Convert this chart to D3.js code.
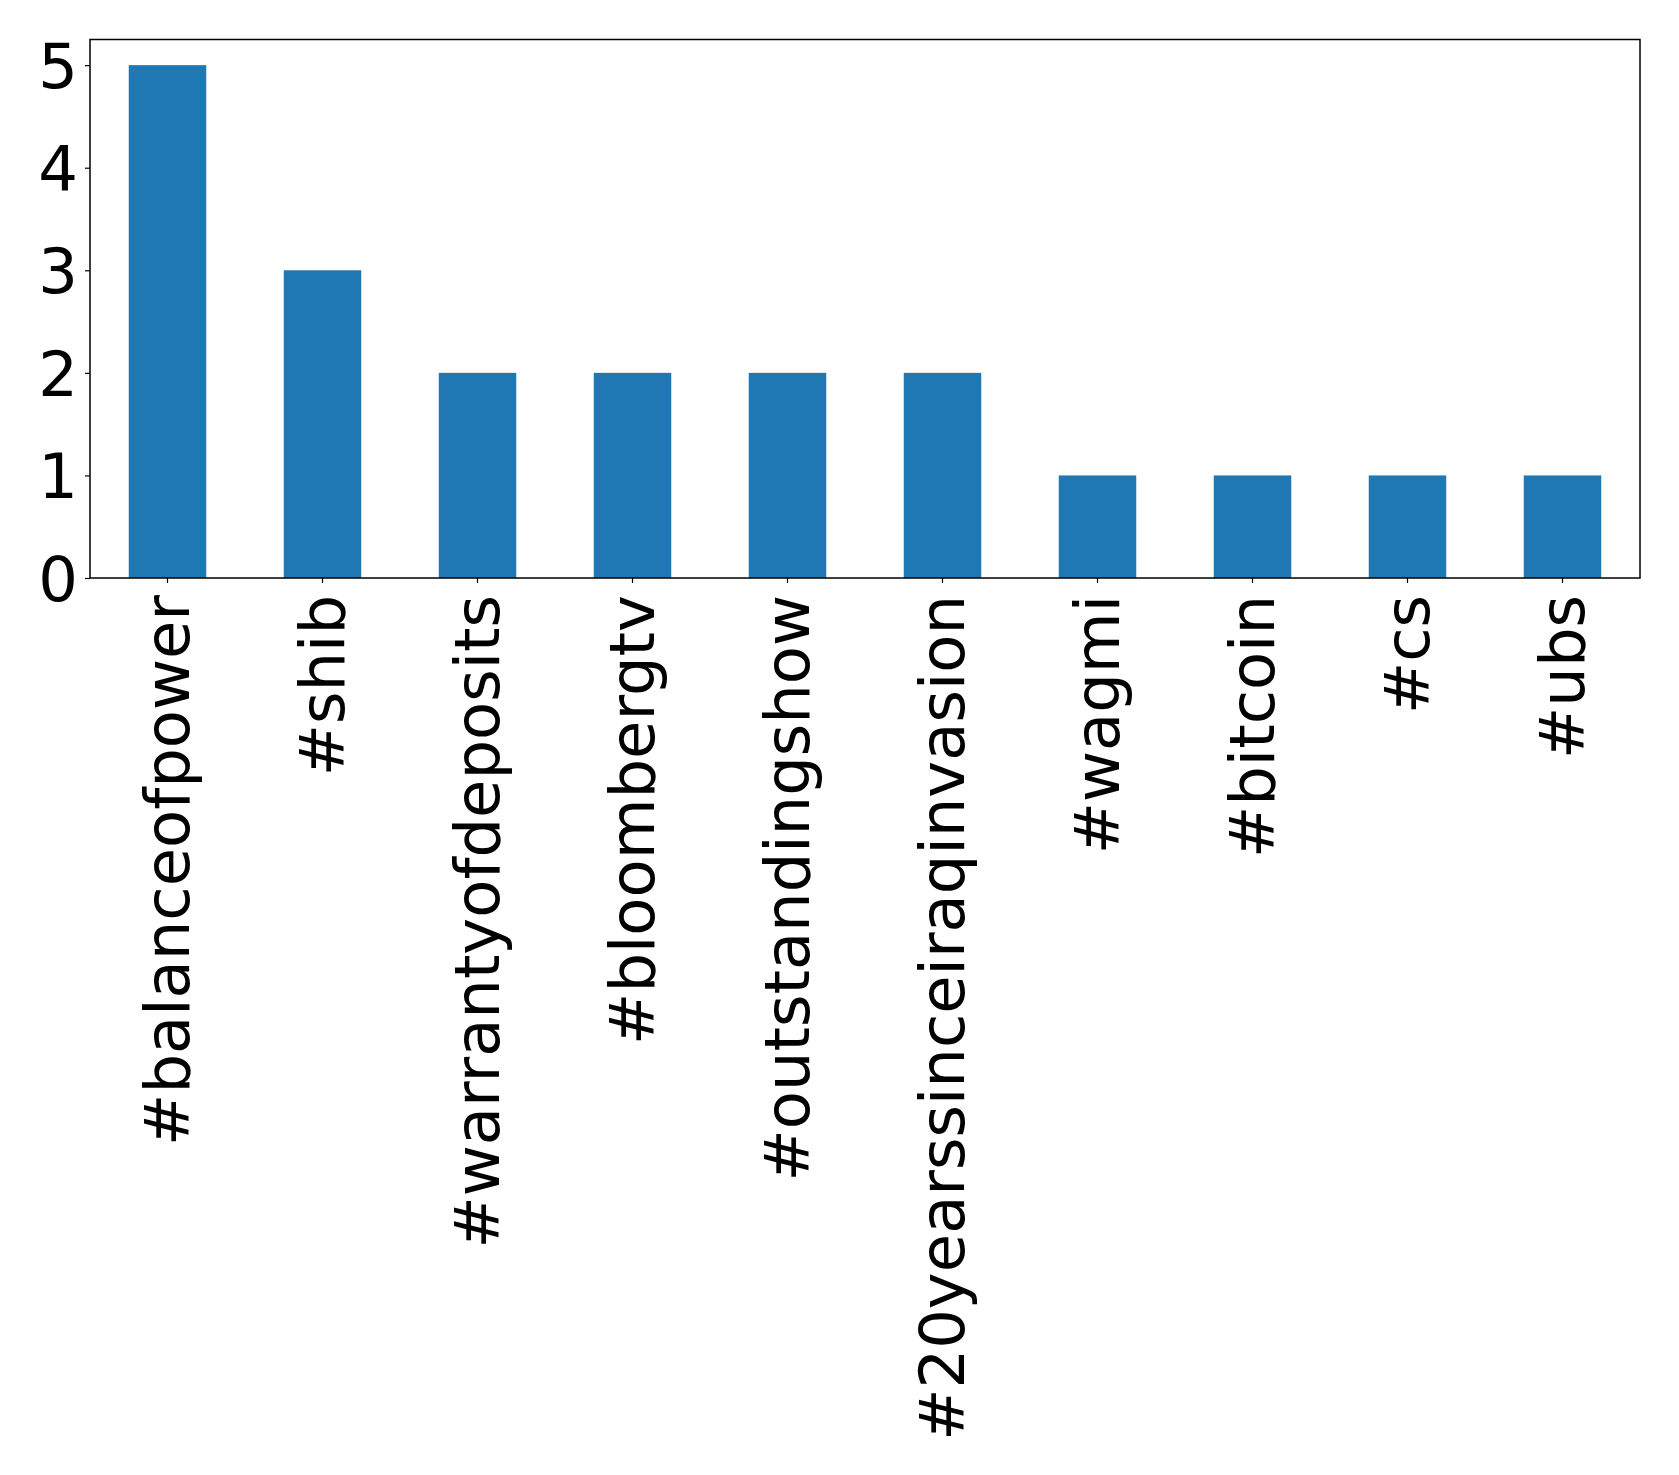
<!DOCTYPE html>
<html lang="en">
  <head>
    <meta charset="utf-8" />
    <script src="https://cdn.jsdelivr.net/npm/d3@7/dist/d3.min.js"></script>
    <style>
      body { margin: 0; background: #fff; }
      text { font-family: "DejaVu Sans", sans-serif; fill: #000; }
    </style>
  </head>
  <body>
    <div id="container"></div>
    <script>
      const hashtags = ["#balanceofpower", "#shib", "#warrantyofdeposits", "#bloombergtv", "#outstandingshow",
        "#20yearssinceiraqinvasion", "#wagmi", "#bitcoin", "#cs", "#ubs"];
      const counts = [5, 3, 2, 2, 2, 2, 1, 1, 1, 1];
      const yTicks = [0, 1, 2, 3, 4, 5];

      const width = 1679, height = 1475;
      const margin = { left: 90, right: 39, top: 39.5, bottom: 897 };
      const fontSize = 62.4;

      const svg = d3.select("#container").append("svg").attr("width", width).attr("height", height);

      const x = d3.scaleBand().domain(hashtags)
        .range([margin.left, width - margin.right])
        .paddingInner(0.5).paddingOuter(0.25);
      const y = d3.scaleLinear().domain([0, 5.25]).range([height - margin.bottom, margin.top]);

      svg.append("g").selectAll("rect").data(counts).join("rect")
        .attr("x", (d, i) => x(hashtags[i]))
        .attr("width", x.bandwidth())
        .attr("y", d => y(d))
        .attr("height", d => y(0) - y(d))
        .attr("fill", "#1f77b4");

      const yAxis = svg.append("g").attr("transform", `translate(${margin.left},0)`)
        .call(d3.axisLeft(y).tickValues(yTicks).tickFormat(d3.format("d")).tickSize(5).tickPadding(7));
      yAxis.select(".domain").remove();
      yAxis.selectAll("line").attr("stroke", "#000").attr("stroke-width", 1.2);
      yAxis.selectAll("text").attr("font-size", fontSize).attr("font-family", "DejaVu Sans").attr("dy", "0.36em");

      const xAxis = svg.append("g").attr("transform", `translate(0,${y(0)})`)
        .call(d3.axisBottom(x).tickSize(5).tickPadding(0));
      xAxis.select(".domain").remove();
      xAxis.selectAll("line").attr("stroke", "#000").attr("stroke-width", 1.2);
      xAxis.selectAll("text")
        .attr("font-size", fontSize).attr("font-family", "DejaVu Sans")
        .attr("text-anchor", "end")
        .attr("transform", "rotate(-90)")
        .attr("x", -17).attr("y", 0).attr("dy", "0.345em");

      svg.append("rect")
        .attr("x", margin.left).attr("y", margin.top)
        .attr("width", width - margin.left - margin.right)
        .attr("height", y(0) - margin.top)
        .attr("fill", "none").attr("stroke", "#000").attr("stroke-width", 1.5);
    </script>
  </body>
</html>
